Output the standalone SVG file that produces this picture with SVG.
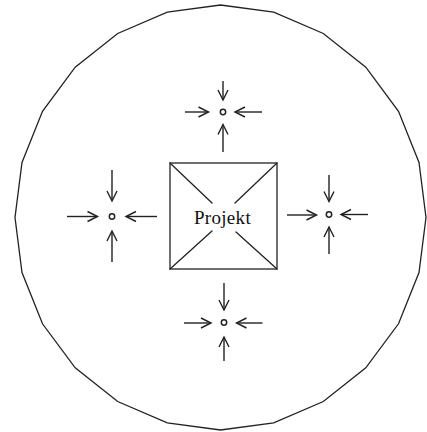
<svg xmlns="http://www.w3.org/2000/svg" width="427" height="432" viewBox="0 0 427 432">
<defs>
<marker id="arr" markerUnits="userSpaceOnUse" markerWidth="16" markerHeight="16" viewBox="-12 -8 16 16" refX="0" refY="0" orient="auto">
<path d="M-10,-5 L0,0 L-10,5" fill="none" stroke="#222" stroke-width="1.4" stroke-linejoin="miter"/>
</marker>
</defs>
<style>
.ln{fill:none;stroke:#222;stroke-width:1.3;stroke-linecap:round}
.ar{fill:none;stroke:#222;stroke-width:1.4;marker-end:url(#arr)}
.dot{fill:#fff;stroke:#222;stroke-width:1.5}
.lbl{font-family:"Liberation Serif","DejaVu Serif",serif;font-size:19px;letter-spacing:0.3px;fill:#111}
</style>
<rect width="427" height="432" fill="#fff"/>
<g id="boundary">
<polygon class="ln" points="220.5,5 273.7,12.2 323.3,33.5 365.8,67.2 398.5,111.3 419,162.5 426,217.5 419,272.5 398.5,323.8 365.8,367.8 323.3,401.5 273.7,422.8 220.5,430 167.3,422.8 117.7,401.5 75.2,367.8 42.5,323.8 22,272.5 15,217.5 22,162.5 42.5,111.3 75.2,67.2 117.7,33.5 167.3,12.2"/>
</g>
<g id="projekt">
<rect class="ln" x="170" y="163" width="107" height="106" stroke-width="1.6"/>
<line class="ln" x1="170" y1="163" x2="212" y2="203"/>
<line class="ln" x1="277" y1="163" x2="235" y2="203"/>
<line class="ln" x1="170" y1="269" x2="212" y2="231"/>
<line class="ln" x1="277" y1="269" x2="236" y2="232"/>
<text class="lbl" x="222.5" y="224" text-anchor="middle">Projekt</text>
</g>
<g id="node-top">
<circle class="dot" cx="223" cy="112" r="2.7"/>
</g>
<g id="node-left">
<circle class="dot" cx="112" cy="216.5" r="2.7"/>
</g>
<g id="node-right">
<circle class="dot" cx="329" cy="214.5" r="2.7"/>
</g>
<g id="node-bottom">
<circle class="dot" cx="224" cy="322.5" r="2.7"/>
</g>
<g id="connectors">
<line class="ar" x1="223" y1="81" x2="223" y2="100"/>
<line class="ar" x1="223" y1="152" x2="223" y2="124.5"/>
<line class="ar" x1="185" y1="112" x2="208.5" y2="112"/>
<line class="ar" x1="262" y1="112" x2="235" y2="112"/>

<line class="ar" x1="112" y1="170" x2="112" y2="201"/>
<line class="ar" x1="112" y1="262" x2="112" y2="231"/>
<line class="ar" x1="67" y1="216.5" x2="97.5" y2="216.5"/>
<line class="ar" x1="157" y1="216.5" x2="126" y2="216.5"/>

<line class="ar" x1="329" y1="175" x2="329" y2="201.5"/>
<line class="ar" x1="329" y1="254" x2="329" y2="227"/>
<line class="ar" x1="287" y1="215" x2="316.5" y2="215"/>
<line class="ar" x1="368" y1="214.5" x2="341" y2="214.5"/>

<line class="ar" x1="224" y1="283" x2="224" y2="310"/>
<line class="ar" x1="224" y1="361" x2="224" y2="337"/>
<line class="ar" x1="184" y1="323" x2="211" y2="323"/>
<line class="ar" x1="262.5" y1="323" x2="236.5" y2="323"/>
</g>
</svg>
